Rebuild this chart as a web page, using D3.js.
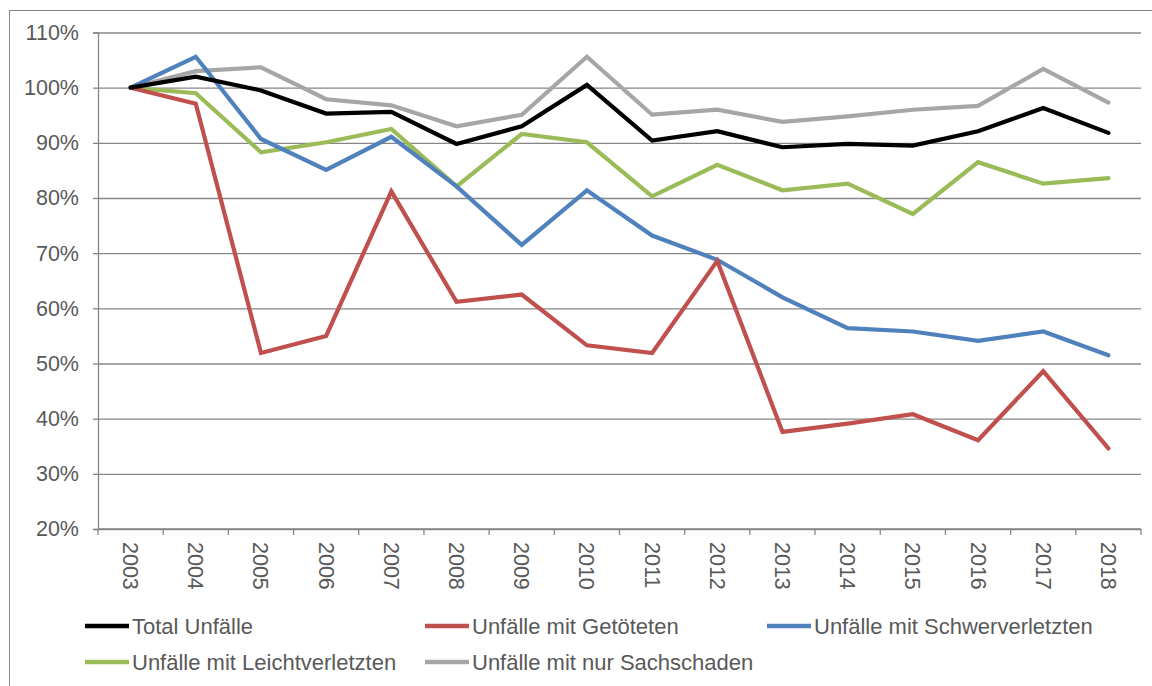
<!DOCTYPE html>
<html>
<head>
<meta charset="utf-8">
<script src="https://cdn.jsdelivr.net/npm/d3@7"></script>
<style>
  body { margin: 0; background: #fff; }
  svg { display: block; font-family: "Liberation Sans", Arial, sans-serif; }
</style>
</head>
<body>
<svg id="chart" width="1152" height="686"></svg>
<script>
const years = ["2003", "2004", "2005", "2006", "2007", "2008", "2009", "2010",
  "2011", "2012", "2013", "2014", "2015", "2016", "2017", "2018"];

// values in % of 2003
const totalUnfaelle = [100, 102.0, 99.5, 95.3, 95.6, 89.8, 93.0, 100.5, 90.4, 92.1, 89.2, 89.8, 89.5, 92.1, 96.3, 91.8];
const getoetete = [100, 97.1, 51.9, 55.0, 81.2, 61.2, 62.5, 53.3, 51.9, 68.6, 37.6, 39.1, 40.8, 36.1, 48.6, 34.6];
const schwerverletzte = [100, 105.6, 90.7, 85.1, 91.1, 82.1, 71.5, 81.4, 73.2, 68.8, 62.0, 56.4, 55.8, 54.1, 55.8, 51.5];
const leichtverletzte = [100, 99.0, 88.3, 90.1, 92.5, 82.1, 91.6, 90.1, 80.3, 86.0, 81.4, 82.6, 77.1, 86.5, 82.6, 83.6];
const sachschaden = [100, 103.0, 103.7, 97.9, 96.8, 93.0, 95.1, 105.6, 95.1, 96.0, 93.8, 94.8, 96.0, 96.7, 103.4, 97.3];

const yTicks = [20, 30, 40, 50, 60, 70, 80, 90, 100, 110];

const series = [
  { name: "Total Unfälle", values: totalUnfaelle, color: "#000000" },
  { name: "Unfälle mit Getöteten", values: getoetete, color: "#C0504D" },
  { name: "Unfälle mit Schwerverletzten", values: schwerverletzte, color: "#4F81BD" },
  { name: "Unfälle mit Leichtverletzten", values: leichtverletzte, color: "#9BBB59" },
  { name: "Unfälle mit nur Sachschaden", values: sachschaden, color: "#A6A6A6" }
];

const svg = d3.select("#chart");
const plotLeft = 98, plotRight = 1141, plotTop = 32.5, plotBottom = 529;
const axisColor = "#868686";
const textColor = "#595959";

// outer chart border
svg.append("rect")
  .attr("x", 9.5).attr("y", 10.5)
  .attr("width", 1150).attr("height", 680)
  .attr("fill", "none")
  .attr("stroke", axisColor);

const x = d3.scaleBand().domain(years).range([plotLeft, plotRight]);
const y = d3.scaleLinear().domain([20, 110]).range([plotBottom, plotTop]);

// gridlines
svg.append("g")
  .attr("transform", `translate(${plotLeft},0)`)
  .call(d3.axisLeft(y).tickValues(yTicks).tickSize(-(plotRight - plotLeft)).tickFormat(""))
  .call(g => g.select(".domain").remove())
  .call(g => g.selectAll("line").attr("stroke", axisColor).attr("stroke-width", 1.3));

// y axis
svg.append("g")
  .attr("transform", `translate(${plotLeft},0)`)
  .call(d3.axisLeft(y).tickValues(yTicks).tickSize(5).tickPadding(14).tickFormat(d => d + "%"))
  .call(g => g.select(".domain").attr("stroke", axisColor).attr("stroke-width", 1.3))
  .call(g => g.selectAll("line").attr("stroke", axisColor).attr("stroke-width", 1.3))
  .call(g => g.selectAll("text")
    .attr("fill", textColor)
    .attr("font-size", 21.5)
    .attr("font-family", "Liberation Sans, Arial, sans-serif"));

// x axis
const xg = svg.append("g").attr("transform", `translate(0,${plotBottom})`);
xg.append("line")
  .attr("x1", plotLeft).attr("x2", plotRight)
  .attr("stroke", axisColor).attr("stroke-width", 1.3);
xg.selectAll(".tick")
  .data(d3.range(years.length + 1))
  .join("line")
  .attr("class", "tick")
  .attr("x1", i => plotLeft + i * x.bandwidth())
  .attr("x2", i => plotLeft + i * x.bandwidth())
  .attr("y1", 0).attr("y2", 6)
  .attr("stroke", axisColor).attr("stroke-width", 1.3);
xg.selectAll("text")
  .data(years)
  .join("text")
  .attr("transform", d => `translate(${x(d) + x.bandwidth() / 2},13) rotate(90)`)
  .attr("dy", "0.35em")
  .attr("fill", textColor)
  .attr("font-size", 21.5)
  .text(d => d);

// lines
const line = d3.line()
  .x((d, i) => x(years[i]) + x.bandwidth() / 2)
  .y(d => y(d));

svg.append("g")
  .selectAll("path")
  .data(series.slice().reverse())
  .join("path")
  .attr("d", d => line(d.values))
  .attr("fill", "none")
  .attr("stroke", d => d.color)
  .attr("stroke-width", 4.2)
  .attr("stroke-linejoin", "miter")
  .attr("stroke-linecap", "round");

// legend
const legendPos = [[85, 626], [425, 626], [767, 626], [85, 662], [425, 662]];
const legend = svg.append("g")
  .selectAll("g")
  .data(series)
  .join("g")
  .attr("transform", (d, i) => `translate(${legendPos[i][0]},${legendPos[i][1]})`);
legend.append("line")
  .attr("x1", 0).attr("x2", 44)
  .attr("stroke", d => d.color)
  .attr("stroke-width", 4.5);
legend.append("text")
  .attr("x", 47)
  .attr("dy", "0.35em")
  .attr("fill", textColor)
  .attr("font-size", 22)
  .text(d => d.name);
</script>
</body>
</html>
